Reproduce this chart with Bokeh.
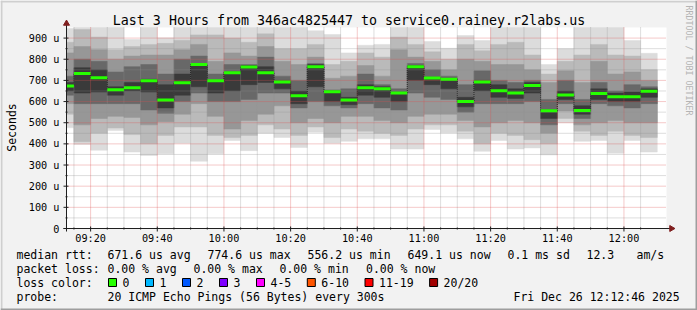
import math
from datetime import datetime, timedelta

from bokeh.plotting import figure
from bokeh.models import Range1d
from bokeh.core.properties import value
from bokeh.embed import file_html
from bokeh.resources import INLINE

# ---------------- data ----------------
DAY = "2025-12-26"
view_start = "09:12:46"
view_end = "12:12:46"
slot_start = ["09:10", "09:15", "09:20", "09:25", "09:30", "09:35", "09:40", "09:45", "09:50",
              "09:55", "10:00", "10:05", "10:10", "10:15", "10:20", "10:25", "10:30", "10:35",
              "10:40", "10:45", "10:50", "10:55", "11:00", "11:05", "11:10", "11:15", "11:20",
              "11:25", "11:30", "11:35", "11:40", "11:45", "11:50", "11:55", "12:00", "12:05"]
slot_minutes = 5

median_us = [674, 733, 712, 656, 665, 698, 607, 689, 775, 698, 736, 763, 736, 693, 627, 764, 646, 607,
             665, 660, 640, 764, 711, 706, 600, 693, 651, 641, 676, 556, 631, 558, 638, 623, 623, 649]
loss_count = [0, 0, 0, 0, 0, 0, 0, 0, 0, 0, 0, 0, 0, 0, 0, 0, 0, 0,
              0, 0, 0, 0, 0, 0, 0, 0, 0, 0, 0, 0, 0, 0, 0, 0, 0, 0]

# smoke: nested ping ranges, outermost (band1) to innermost (band5)
band1_lo = [476, 397, 370, 463, 361, 345, 353, 403, 318, 353, 416, 368, 450, 430, 383, 455, 403, 412,
            424, 424, 376, 376, 468, 452, 424, 365, 416, 376, 381, 348, 500, 412, 416, 356, 416, 361]
band1_hi = [945, 960, 960, 960, 893, 960, 901, 960, 960, 960, 960, 955, 960, 960, 960, 935, 917, 830,
            866, 870, 960, 960, 884, 852, 912, 888, 960, 960, 960, 775, 850, 960, 960, 960, 888, 828]
band2_lo = [540, 410, 450, 475, 444, 400, 440, 480, 480, 440, 430, 440, 490, 470, 440, 480, 430, 470,
            460, 450, 440, 470, 490, 490, 460, 400, 450, 440, 420, 400, 520, 460, 440, 460, 440, 430]
band2_hi = [880, 940, 905, 845, 860, 870, 875, 890, 915, 915, 900, 880, 920, 850, 850, 870, 775, 790,
            830, 810, 905, 870, 835, 800, 870, 840, 870, 880, 820, 730, 790, 820, 870, 820, 815, 750]
band3_lo = [590, 490, 520, 530, 525, 490, 505, 540, 590, 530, 470, 510, 540, 580, 500, 520, 500, 530,
            530, 510, 500, 530, 540, 540, 510, 480, 500, 510, 500, 450, 555, 490, 500, 510, 500, 500]
band3_hi = [830, 860, 845, 800, 815, 820, 820, 845, 870, 790, 830, 815, 860, 790, 775, 810, 710, 720,
            770, 720, 845, 810, 790, 750, 800, 790, 775, 775, 750, 690, 745, 690, 790, 730, 740, 700]
band4_lo = [630, 590, 590, 590, 590, 560, 545, 600, 640, 600, 600, 610, 640, 640, 570, 600, 580, 570,
            590, 570, 560, 640, 620, 610, 550, 590, 590, 590, 600, 490, 590, 520, 590, 580, 570, 590]
band4_hi = [720, 800, 790, 740, 765, 775, 730, 800, 815, 730, 775, 775, 810, 720, 700, 780, 655, 660,
            730, 680, 660, 780, 750, 720, 680, 745, 700, 690, 700, 610, 700, 610, 690, 650, 680, 670]
band5_lo = [650, 640, 645, 630, 650, 645, 570, 630, 670, 640, 650, 680, 690, 660, 590, 670, 600, 585,
            630, 620, 600, 700, 680, 660, 575, 650, 620, 615, 640, 520, 610, 540, 610, 600, 600, 620]
band5_hi = [690, 760, 750, 670, 690, 705, 680, 730, 775, 700, 740, 770, 765, 700, 650, 775, 650, 620,
            680, 670, 645, 770, 715, 710, 620, 700, 680, 660, 690, 560, 650, 580, 660, 640, 645, 660]

y_ticks = [0, 100, 200, 300, 400, 500, 600, 700, 800, 900]
y_tick_labels = ["0", "100 u", "200 u", "300 u", "400 u", "500 u", "600 u", "700 u", "800 u", "900 u"]
y_minor = [50, 150, 250, 350, 450, 550, 650, 750, 850]
y_max = 950
x_ticks = ["09:20", "09:40", "10:00", "10:20", "10:40", "11:00", "11:20", "11:40", "12:00"]

loss_labels = ["0", "1", "2", "3", "4-5", "6-10", "11-19", "20/20"]
loss_colors = ["#26ff00", "#00b8ff", "#0059ff", "#7e00ff", "#ff00ff", "#ff5500", "#ff0000", "#a10000"]
loss_upper = [0, 1, 2, 3, 5, 10, 19, 20]

title_text = "Last 3 Hours from 346ac4825447 to service0.rainey.r2labs.us"
stats_rtt = ["median rtt:", "671.6 us avg", "774.6 us max", "556.2 us min", "649.1 us now",
             "0.1 ms sd", "12.3", "am/s"]
stats_loss = ["packet loss:", "0.00 % avg", "0.00 % max", "0.00 % min", "0.00 % now"]
probe_text = ["probe:", "20 ICMP Echo Pings (56 Bytes) every 300s", "Fri Dec 26 12:12:46 2025"]

# ---------------- helpers ----------------
def t(hm):
    fmt = "%Y-%m-%d %H:%M:%S" if hm.count(":") == 2 else "%Y-%m-%d %H:%M"
    return datetime.strptime(DAY + " " + hm, fmt)

lefts = [t(s) for s in slot_start]
rights = [l + timedelta(minutes=slot_minutes) for l in lefts]
t0, t1 = t(view_start), t(view_end)

def loss_color(n):
    for up, c in zip(loss_upper, loss_colors):
        if n <= up:
            return c
    return loss_colors[-1]

# canvas geometry (pixels) of the graph area
W, H = 697, 310
FL, FR, FT, FB = 66, 666, 27, 228
SEC_PER_PX = (t1 - t0).total_seconds() / (FR - FL)
U_PER_PX = y_max / (FB - FT)

def X(px):  # canvas x pixel -> time
    return t0 + timedelta(seconds=(px - FL) * SEC_PER_PX)

def Y(py):  # canvas y pixel -> value
    return (FB - py) * U_PER_PX

def px_of(tm):
    return FL + (tm - t0).total_seconds() / SEC_PER_PX

FONT = "DejaVu Sans Mono"

p = figure(width=W, height=H, x_axis_type="datetime",
           x_range=Range1d(X(0), X(W)), y_range=Range1d(Y(H), Y(0)),
           output_backend="svg", toolbar_location=None,
           min_border_left=0, min_border_right=0, min_border_top=0, min_border_bottom=0)
p.axis.visible = False
p.grid.visible = False
p.outline_line_color = None
p.background_fill_color = "#f2f2f2"
p.border_fill_color = "#f2f2f2"

# 3D frame around canvas
p.quad(left=[X(0), X(0)], right=[X(W), X(2)], top=[Y(0), Y(0)], bottom=[Y(2), Y(H)],
       fill_color="#cfcfcf", line_color=None)
p.quad(left=[X(0), X(W - 2)], right=[X(W), X(W)], top=[Y(H - 2), Y(0)], bottom=[Y(H), Y(H)],
       fill_color="#9e9e9e", line_color=None)

# white graph canvas
p.quad(left=[t0], right=[t1], bottom=[0], top=[y_max], fill_color="#ffffff", line_color=None)

# smoke bands
band_colors = ["#dcdcdc", "#bababa", "#979797", "#686868", "#3a3a3a"]
bands = [(band1_lo, band1_hi), (band2_lo, band2_hi), (band3_lo, band3_hi),
         (band4_lo, band4_hi), (band5_lo, band5_hi)]
vis_left = [max(l, t0) for l in lefts]
clip_hi = lambda arr: [min(v, y_max) for v in arr]
for (lo, hi), c in zip(bands, band_colors):
    p.quad(left=vis_left, right=rights, bottom=lo, top=clip_hi(hi), fill_color=c,
           line_color=c, line_width=0.5)

# grid (dotted)
minor_x = [r for r in rights[:-1] if r.strftime("%H:%M") not in x_ticks]
major_x = [t(s) for s in x_ticks]
p.segment(x0=minor_x, x1=minor_x, y0=[0] * len(minor_x), y1=[y_max] * len(minor_x),
          line_color="#8f8f8f", line_alpha=0.6, line_width=1, line_dash="1 1")
p.segment(x0=[t0] * len(y_minor), x1=[t1] * len(y_minor), y0=y_minor, y1=y_minor,
          line_color="#8f8f8f", line_alpha=0.6, line_width=1, line_dash="1 1")
p.segment(x0=major_x, x1=major_x, y0=[0] * len(major_x), y1=[y_max] * len(major_x),
          line_color="#de4f4f", line_alpha=0.6, line_width=1, line_dash="1 1")
p.segment(x0=[t0] * (len(y_ticks) - 1), x1=[t1] * (len(y_ticks) - 1), y0=y_ticks[1:], y1=y_ticks[1:],
          line_color="#de4f4f", line_alpha=0.6, line_width=1, line_dash="1 1")

# median line (dark step) + loss-coloured bars
step_x = [vis_left[0]] + lefts[1:] + [rights[-1]]
p.step(x=step_x, y=median_us + [median_us[-1]], mode="after",
       line_color="#202020", line_width=1, line_dash="1 1")
p.segment(x0=vis_left, x1=rights, y0=median_us, y1=median_us,
          line_color=[loss_color(n) for n in loss_count], line_width=3, line_cap="butt")

# axes lines, ticks, arrows
AX = "#1f1f1f"
p.segment(x0=[X(FL - 3)], x1=[X(FR + 4)], y0=[0], y1=[0], line_color=AX, line_width=1)
p.segment(x0=[t0], x1=[t0], y0=[Y(FB + 3)], y1=[Y(FT - 3)], line_color=AX, line_width=1)
p.scatter(x=[t0], y=[Y(FT - 4)], marker="triangle", size=6, fill_color="#801f1f",
          line_color="#801f1f")
p.scatter(x=[X(FR + 5)], y=[0], marker="triangle", size=6, angle=-math.pi / 2,
          fill_color="#801f1f", line_color="#801f1f")
# y ticks
p.segment(x0=[X(FL - 3)] * len(y_ticks), x1=[X(FL + 2)] * len(y_ticks), y0=y_ticks, y1=y_ticks,
          line_color=AX, line_width=1)
p.segment(x0=[X(FL - 1)] * len(y_minor), x1=[X(FL + 1)] * len(y_minor), y0=y_minor, y1=y_minor,
          line_color=AX, line_width=1)
# x ticks
p.segment(x0=major_x, x1=major_x, y0=[Y(FB + 3)] * len(major_x), y1=[Y(FB - 2)] * len(major_x),
          line_color=AX, line_width=1)
p.segment(x0=minor_x, x1=minor_x, y0=[Y(FB + 1)] * len(minor_x), y1=[Y(FB - 1)] * len(minor_x),
          line_color=AX, line_width=1)

TICK_SIZE = "10.2px"
p.text(x=[X(FL - 7)] * len(y_ticks), y=y_ticks, text=y_tick_labels,
       text_font=value(FONT), text_font_size=value(TICK_SIZE), text_align="right",
       text_baseline="middle", text_color="#000000")
p.text(x=major_x, y=[Y(FB + 10)] * len(major_x), text=x_ticks,
       text_font=value(FONT), text_font_size=value(TICK_SIZE), text_align="center",
       text_baseline="middle", text_color="#000000")

# texts around the graph
def label(px, py, txt, size="11.5px", align="left", angle=0.0, color="#000000"):
    p.text(x=[X(px)], y=[Y(py)], text=[txt], text_font=value(FONT),
           text_font_size=value(size), text_align=align, text_baseline="middle",
           angle=angle, text_color=color)

label(348.5, 19.5, title_text, size="13.3px", align="center")
label(11, 127, "Seconds", align="center", angle=math.pi / 2)
label(688, 5, "RRDTOOL / TOBI OETIKER", size="8.3px", angle=-math.pi / 2, color="#b4b4b4")

row_y = [254, 268, 282, 296]
for txt, px in zip(stats_rtt, [16, 107, 207, 307, 407, 507, 586, 636]):
    label(px, row_y[0], txt)
for txt, px in zip(stats_loss, [16, 107, 193, 279, 365.5]):
    label(px, row_y[1], txt)
label(16, row_y[2], "loss color:")
sq_x, lab_x = [], []
cur = 108.0
for lab in loss_labels:
    sq_x.append(X(cur + 4))
    lab_x.append(X(cur + 14))
    cur += 37 + 6.9 * (len(lab) - 1)
p.rect(x=sq_x, y=[Y(row_y[2])] * len(sq_x), width=8, height=8, width_units="screen",
       height_units="screen", fill_color=loss_colors, line_color="#000000", line_width=1)
p.text(x=lab_x, y=[Y(row_y[2])] * len(lab_x), text=loss_labels, text_font=value(FONT),
       text_font_size=value("11.5px"), text_align="left", text_baseline="middle",
       text_color="#000000")
for txt, px in zip(probe_text, [16, 107, 513]):
    label(px, row_y[3], txt)

open("out.html", "w").write(file_html(p, INLINE))
